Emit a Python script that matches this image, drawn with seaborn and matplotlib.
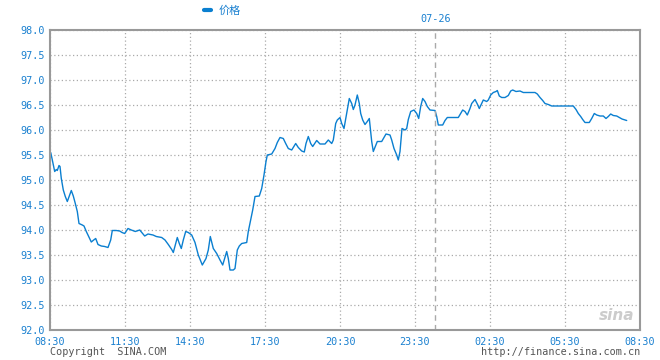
import matplotlib
matplotlib.use("Agg")
import matplotlib.pyplot as plt
import seaborn as sns
import pandas as pd

# x position along the session axis, price values
pos = [0.7, 2, 4.7, 6.3, 7.3, 9, 10, 11.3, 13.3, 15.3, 17.3, 19.3, 21.3, 23.3, 25.3, 27.3,
       29, 32.3, 34, 36.3, 38.7, 41.3, 43.7, 45.7, 48, 51.3, 54.7, 58, 60.7, 62.3, 66.3,
       69.7, 72, 74.7, 78, 81.3, 85.3, 89.7, 94.7, 98, 103, 106.3, 111.7, 115, 118.3,
       121.7, 123.3, 127.3, 129.3, 131.3, 133.3, 135.7, 138.3, 141.7, 145, 148.3, 152.3,
       156, 158.3, 160.3, 163.3, 166.7, 170, 172.7, 176.7, 178.3, 180, 183.3, 185, 187.3,
       189.3, 191.7, 196.7, 198.3, 200.7, 202.7, 205, 209.3, 211.7, 214, 216, 217.3,
       221.7, 225, 227.3, 230, 233.3, 235.7, 238.3, 241.7, 245.7, 248.3, 251.7, 254.3,
       256, 258.3, 260.7, 262.7, 266.7, 270, 275, 278.3, 281.7, 283.3, 285.7, 287.3, 290,
       291.7, 294, 296.7, 299.3, 301.7, 303.3, 305, 307.3, 309.3, 310.7, 312.7, 315,
       317.3, 319.3, 320.7, 321.7, 323.3, 325.3, 327.3, 331.7, 336, 340, 341.7, 344,
       346.7, 348.3, 350, 352, 355, 356.7, 358.3, 360.7, 364, 366.7, 368.7, 370.7, 372.7,
       375, 377.3, 380, 385, 386.7, 388.3, 392.7, 395, 397.3, 403.3, 408.3, 410.7, 412.7,
       415, 417.3, 420, 421.7, 425, 427.3, 429.3, 431.7, 433.3, 436.7, 438.3, 440.7,
       443.3, 446, 447.3, 449.3, 451.7, 455, 458.3, 460.7, 462.7, 466, 470, 473.3, 480,
       485, 487.3, 490, 492.7, 495, 498.3, 501.7, 506.7, 513.3, 523.3, 526, 528.3, 530.7,
       532.7, 535, 539.3, 541.7, 544.3, 546.7, 550, 553.3, 556, 558.3, 560.7, 563.3,
       566.7, 569.3, 572, 575, 576.7]
price = [95.55, 95.43, 95.17, 95.21, 95.19, 95.29, 95.27, 95.03, 94.80, 94.67, 94.57, 94.68,
         94.79, 94.68, 94.53, 94.37, 94.13, 94.10, 94.08, 93.97, 93.87, 93.76, 93.80, 93.83,
         93.71, 93.68, 93.67, 93.65, 93.80, 93.99, 93.99, 93.98, 93.95, 93.93, 94.03, 94.00,
         93.97, 94.00, 93.88, 93.92, 93.90, 93.87, 93.85, 93.80, 93.71, 93.61, 93.55, 93.85,
         93.73, 93.63, 93.80, 93.97, 93.95, 93.90, 93.75, 93.50, 93.30, 93.43, 93.60, 93.87,
         93.63, 93.53, 93.40, 93.30, 93.57, 93.43, 93.20, 93.20, 93.23, 93.60, 93.68, 93.73,
         93.75, 93.97, 94.20, 94.40, 94.67, 94.68, 94.83, 95.10, 95.37, 95.50, 95.52, 95.63,
         95.75, 95.85, 95.83, 95.73, 95.63, 95.60, 95.73, 95.65, 95.58, 95.56, 95.73, 95.87,
         95.73, 95.67, 95.79, 95.72, 95.72, 95.80, 95.73, 95.80, 96.13, 96.20, 96.25, 96.13,
         96.03, 96.33, 96.63, 96.53, 96.41, 96.50, 96.70, 96.53, 96.33, 96.20, 96.11, 96.17,
         96.23, 95.97, 95.77, 95.57, 95.67, 95.77, 95.77, 95.92, 95.90, 95.80, 95.63, 95.50,
         95.40, 95.57, 96.03, 96.00, 96.03, 96.21, 96.37, 96.40, 96.33, 96.23, 96.47, 96.63,
         96.57, 96.47, 96.40, 96.39, 96.27, 96.10, 96.10, 96.19, 96.25, 96.25, 96.25, 96.33,
         96.40, 96.37, 96.30, 96.43, 96.53, 96.61, 96.52, 96.43, 96.53, 96.60, 96.57, 96.60,
         96.70, 96.75, 96.77, 96.79, 96.68, 96.65, 96.65, 96.69, 96.78, 96.80, 96.77, 96.78,
         96.75, 96.75, 96.75, 96.72, 96.65, 96.59, 96.53, 96.51, 96.48, 96.48, 96.48, 96.48,
         96.41, 96.33, 96.27, 96.21, 96.15, 96.15, 96.23, 96.33, 96.30, 96.28, 96.28, 96.23,
         96.27, 96.32, 96.29, 96.28, 96.25, 96.22, 96.20, 96.19]

tick_pos = [0, 75, 140, 215, 290, 365, 440, 515, 590]
tick_labels = ["08:30", "11:30", "14:30", "17:30", "20:30", "23:30", "02:30", "05:30", "08:30"]
y_ticks = [92.0, 92.5, 93.0, 93.5, 94.0, 94.5, 95.0, 95.5, 96.0, 96.5, 97.0, 97.5, 98.0]
day_break_pos = 385.3
day_label = "07-26"
series_name = "价格"

df = pd.DataFrame({"pos": pos, "price": price})

sns.set_style("white")
plt.rcParams["font.family"] = ["DejaVu Sans Mono", "Noto Sans CJK SC"]

BLUE = "#0a7fd0"
TXT = "#1a80d0"
GRAY = "#999999"

fig = plt.figure(figsize=(6.6, 3.6), dpi=100)
ax = fig.add_axes([50 / 660, 30 / 360, 590 / 660, 300 / 360])

sns.lineplot(data=df, x="pos", y="price", ax=ax, color=BLUE, linewidth=1.0,
             label=series_name, legend=False)

ax.set_xlim(0, 590)
ax.set_ylim(92, 98)
ax.set_xticks(tick_pos)
ax.set_xticklabels(tick_labels)
ax.set_yticks(y_ticks)
ax.set_yticklabels([f"{v:.1f}" for v in y_ticks])
ax.set_xlabel("")
ax.set_ylabel("")
ax.tick_params(axis="both", length=0, labelsize=7.3, colors=TXT)
ax.tick_params(axis="x", pad=5)
ax.tick_params(axis="y", pad=4)

ax.grid(True, color="#aaaaaa", linestyle=(0, (1, 2)), linewidth=0.9)
for s in ax.spines.values():
    s.set_color(GRAY)
    s.set_linewidth(1.5)
    s.set_visible(True)

ax.axvline(day_break_pos, color="#aaaaaa", linestyle=(0, (4, 3)), linewidth=1.0)
ax.text(day_break_pos, 1.02, day_label, transform=ax.get_xaxis_transform(),
        ha="center", va="bottom", fontsize=7.3, color=TXT)

# legend
leg = ax.legend(loc="center", bbox_to_anchor=(222 / 660, 1 - 11 / 360),
                bbox_transform=fig.transFigure, frameon=False, handlelength=0.7,
                handletextpad=0.6, prop={"family": ["Noto Sans CJK SC"], "size": 8})
for h in leg.get_lines():
    h.set_linewidth(3)
for t in leg.get_texts():
    t.set_color(TXT)

fig.text(50 / 660, 1 - 352 / 360, "Copyright  SINA.COM", ha="left", va="center",
         fontsize=7.3, color="#555555")
fig.text(640 / 660, 1 - 352 / 360, "http://finance.sina.com.cn", ha="right", va="center",
         fontsize=7.3, color="#555555")
fig.text(617 / 660, 1 - 315 / 360, "sina", ha="center", va="center", fontsize=11,
         color="#cccccc", style="italic", weight="bold", family="DejaVu Sans")

fig.savefig("out.png", dpi=100, facecolor="white")
